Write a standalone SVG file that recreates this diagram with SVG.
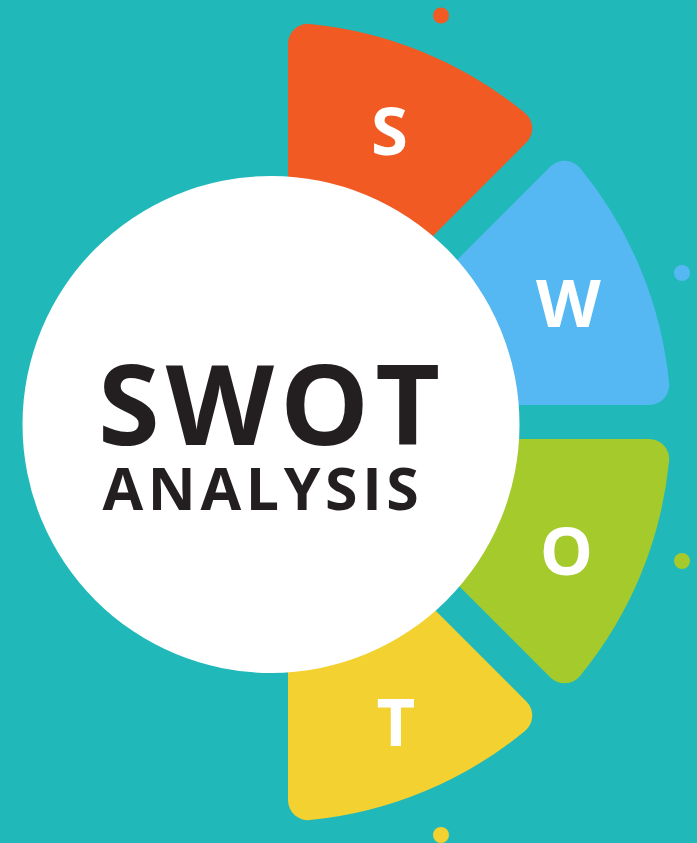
<svg xmlns="http://www.w3.org/2000/svg" xmlns:xlink="http://www.w3.org/1999/xlink" width="697" height="843" viewBox="0 0 697 843">
  <style>
    .letter { font-family: "Open Sans", "Liberation Sans", sans-serif; font-weight: 700; font-size: 67px; fill: #ffffff; text-anchor: middle; }
    .title { font-family: "Open Sans", "Liberation Sans", sans-serif; font-weight: 700; fill: #231f20; text-anchor: middle; }
  </style>
  <defs>
    <!-- One quarter-of-a-half ring sector (top, 90deg to 45deg) around (271,422), outer radius 400, 20px rounded corners -->
    <path id="sector" d="M288,381 L288,43.81 A20,20 0 0 1 309.95,23.91 A400,400 0 0 1 524.96,112.97 A20,20 0 0 1 526.4,142.56 Z"/>
  </defs>

  <rect width="697" height="843" fill="#21b8b9"/>

  <!-- accent dots -->
  <g id="dots">
    <circle cx="441" cy="15.5" r="8" fill="#f15a22"/>
    <circle cx="682" cy="273" r="8" fill="#56b8f2"/>
    <circle cx="682" cy="561" r="8" fill="#a5ca2c"/>
    <circle cx="441" cy="835" r="8" fill="#f2d131"/>
  </g>

  <g id="strengths">
    <use xlink:href="#sector" fill="#f15a22"/>
    <text class="letter" x="389.5" y="155">S</text>
  </g>
  <g id="weaknesses">
    <use xlink:href="#sector" fill="#56b8f2" transform="rotate(45 271 422)"/>
    <text class="letter" x="568.5" y="327">W</text>
  </g>
  <g id="opportunities">
    <use xlink:href="#sector" fill="#a5ca2c" transform="rotate(90 271 422)"/>
    <text class="letter" x="566.5" y="575">O</text>
  </g>
  <g id="threats">
    <use xlink:href="#sector" fill="#f2d131" transform="rotate(135 271 422)"/>
    <text class="letter" x="396" y="746">T</text>
  </g>

  <g id="center">
    <circle cx="271" cy="424.5" r="248.5" fill="#ffffff"/>
    <text class="title" x="272" y="445" font-size="112" letter-spacing="6">SWOT</text>
    <text class="title" x="263" y="510" font-size="59" letter-spacing="4.6">ANALYSIS</text>
  </g>
</svg>
